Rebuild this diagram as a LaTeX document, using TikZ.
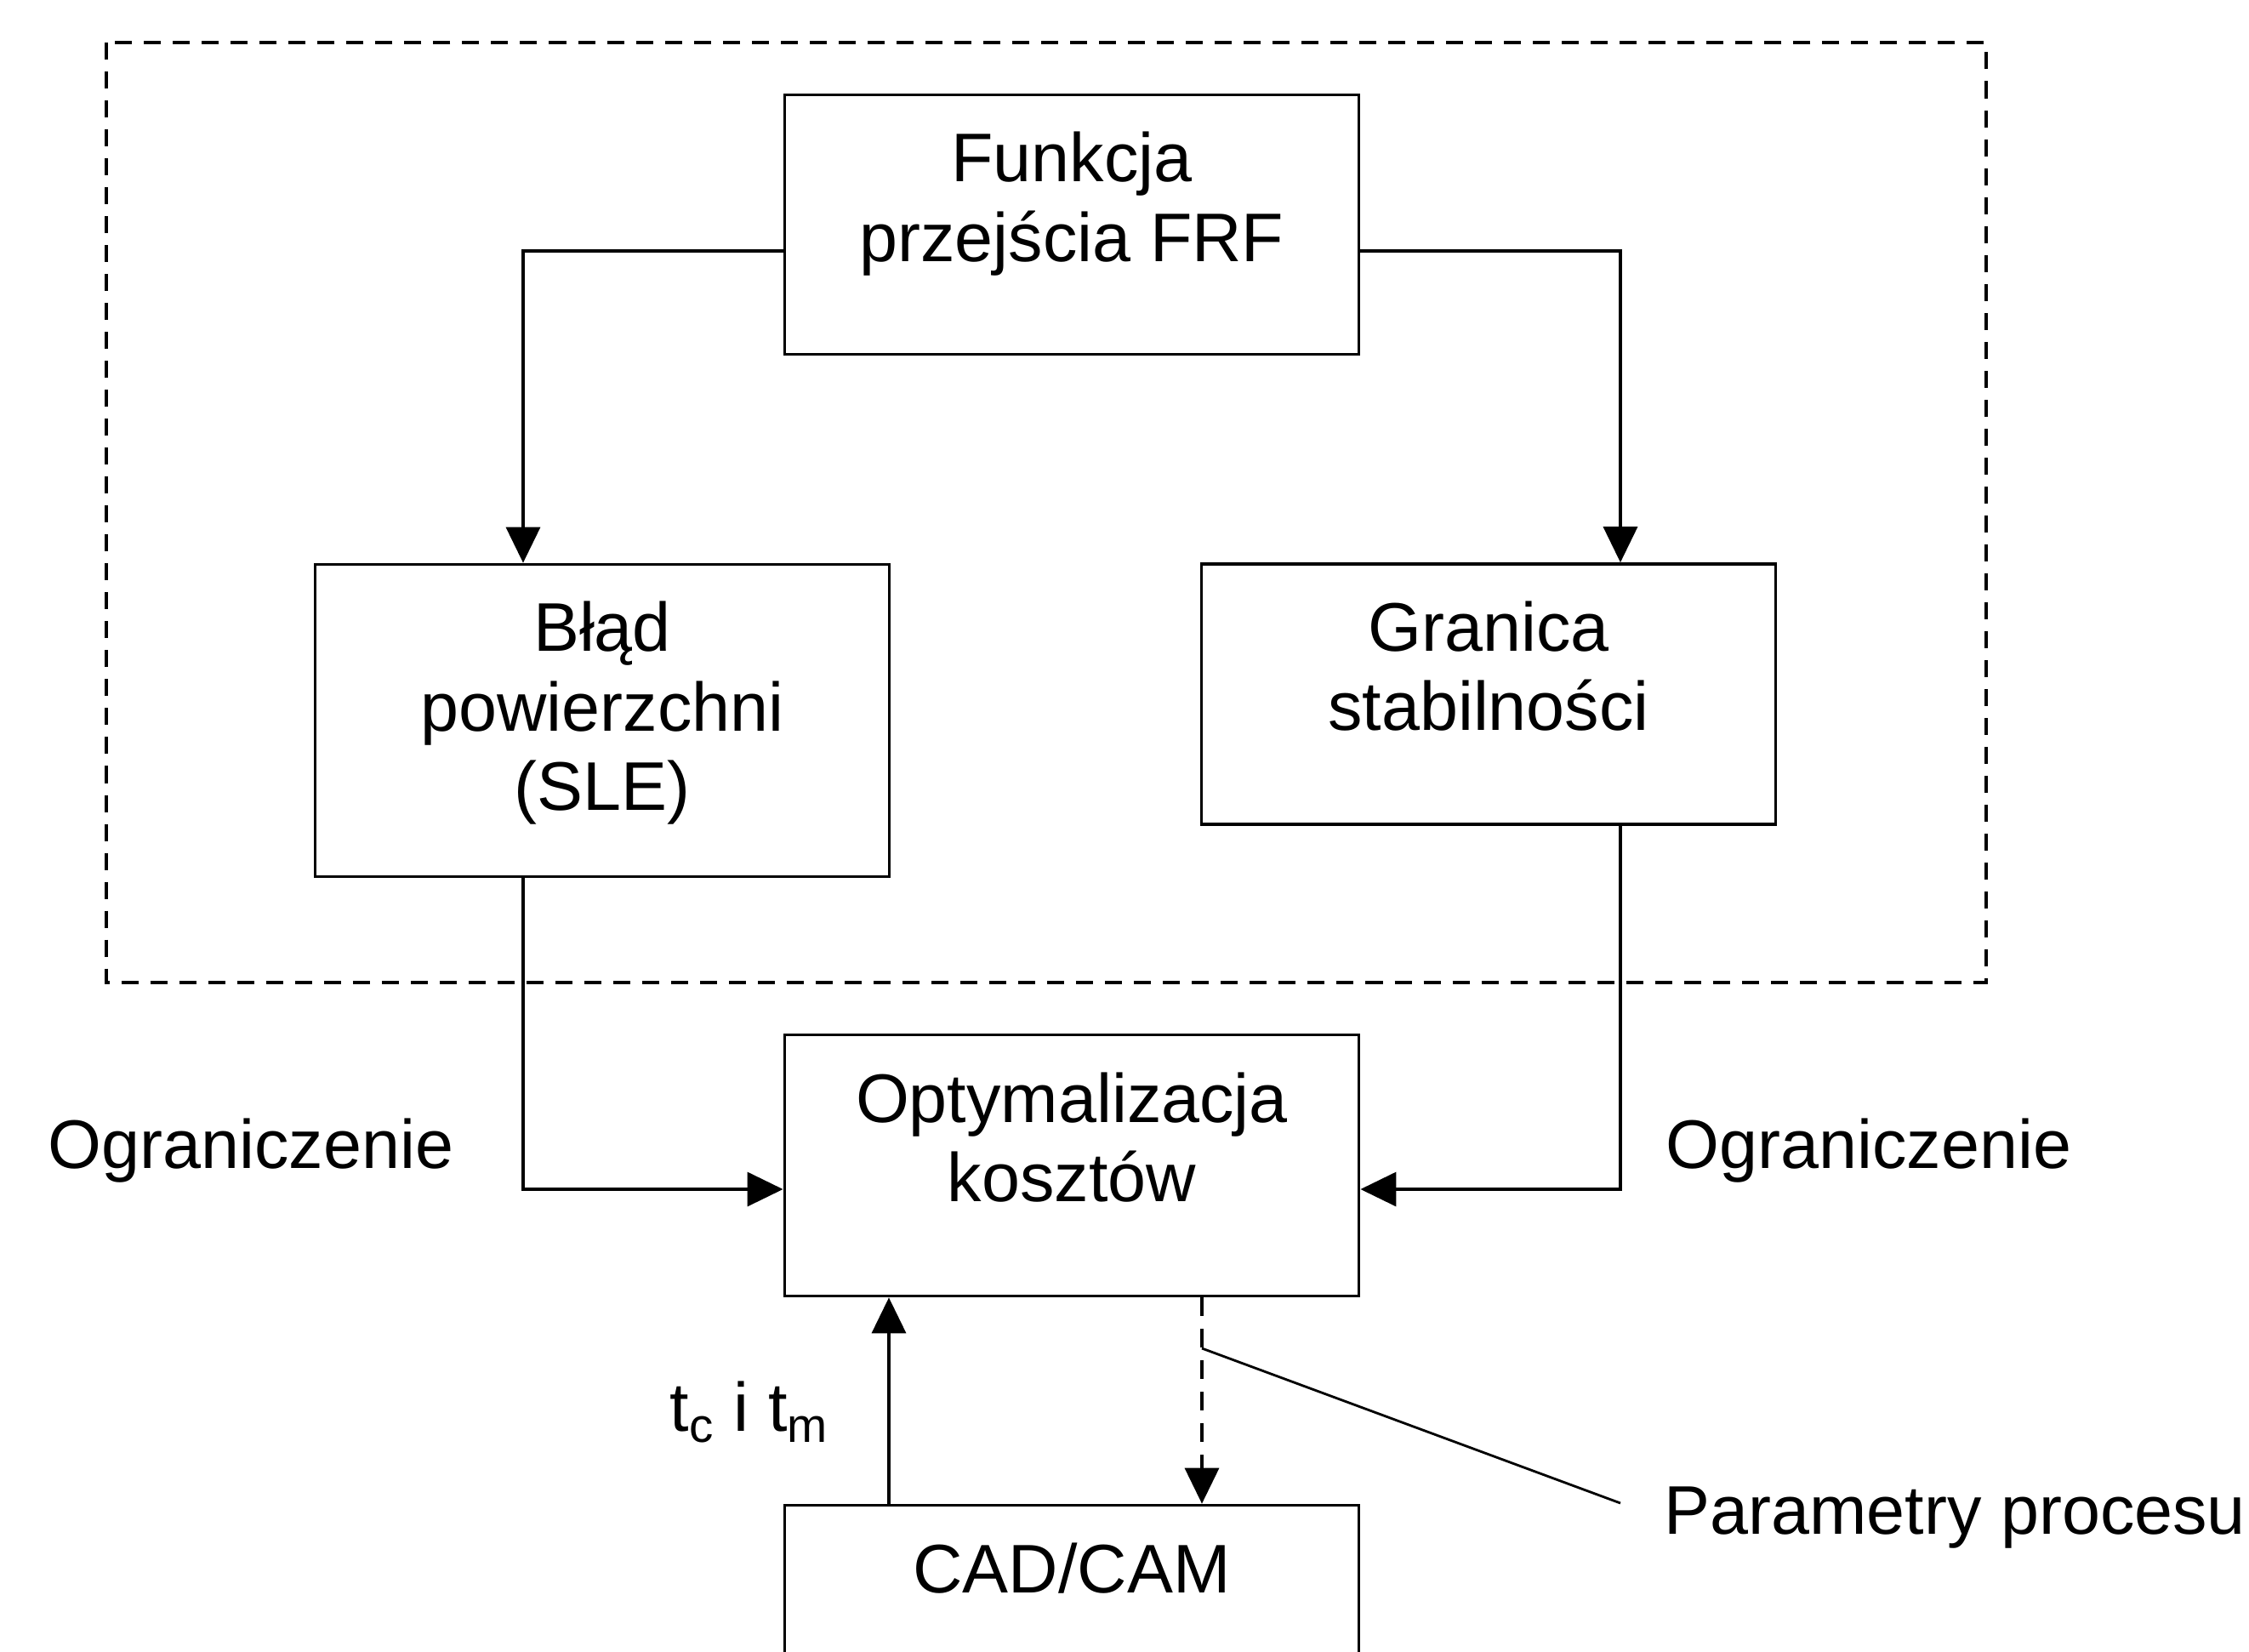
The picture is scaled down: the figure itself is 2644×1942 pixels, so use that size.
\documentclass[tikz,border=0pt]{standalone}
\usepackage{fontspec}
\setmainfont{Liberation Sans}
\usetikzlibrary{positioning,arrows.meta}

\tikzset{
	blok/.style={draw, line width=1pt, inner sep=0pt},
	napis/.style={align=center, inner sep=0pt},
	strz/.style={line width=1pt, -{Triangle[length=4.2mm,width=4mm]}},
	ramka/.style={line width=1pt, dash pattern=on 2mm off 1.4mm},
	every node/.style={font=\fontsize{23}{26.5}\selectfont}
}

\begin{document}
\begin{tikzpicture}[x=0.01cm, y=-0.01cm]
	\useasboundingbox (0,0) rectangle (2644,1942);
	\clip (0,0) rectangle (2644,1942);
	
	% Draw dashed frame
	\draw[ramka] (125,50) rectangle (2335,1155);
	
	% Draw boxes
	\node[blok, minimum width=6.75cm, minimum height=3.05cm] (frf) at (1260,264) {};
	\node[blok, minimum width=6.75cm, minimum height=3.67cm] (blad) at (708,847) {};
	\node[blok, minimum width=6.75cm, minimum height=3.06cm] (gran) at (1750,816) {};
	\node[blok, minimum width=6.75cm, minimum height=3.07cm] (opt) at (1260,1370) {};
	\node[blok, minimum width=6.75cm, minimum height=3.07cm] (cad) at (1260,1923) {};
	
	% Box texts
	\node[napis, below=0.45cm of frf.north] (frf-t) {Funkcja\\przejścia FRF};
	\node[napis, below=0.45cm of blad.north] (blad-t) {Błąd\\powierzchni\\(SLE)};
	\node[napis, below=0.45cm of gran.north] (gran-t) {Granica\\stabilności};
	\node[napis, below=0.45cm of opt.north] (opt-t) {Optymalizacja\\kosztów};
	\node[napis, below=0.45cm of cad.north] (cad-t) {CAD/CAM};
	
	% Bends of the connectors
	\coordinate (kL) at (615,295);
	\coordinate (kP) at (1905,295);
	\coordinate (kD) at (615,1398);
	\coordinate (gora) at (1045,0);
	\coordinate (dol) at (1413,0);
	
	% Draw connectors
	\draw[strz] (frf.west |- kL) -| (blad.north -| kL);
	\draw[strz] (frf.east |- kP) -| (gran.north -| kP);
	\draw[strz] (blad.south -| kL) |- (opt.west |- kD);
	\draw[strz] (gran.south -| kP) |- (opt.east |- kD);
	\draw[strz] (cad.north -| gora) -- (opt.south -| gora);
	\draw[strz, dash pattern=on 2.2mm off 1.5mm] (opt.south -| dol) -- (cad.north -| dol);
	
	% Labels
	\node[anchor=base west, inner sep=0pt] (ogrL) at (56,1373) {Ograniczenie};
	\node[anchor=base west, inner sep=0pt] (ogrP) at (1958,1373) {Ograniczenie};
	\node[anchor=base west, inner sep=0pt] (czasy) at (787,1682) {t\textsubscript{c} i t\textsubscript{m}};
	\node[anchor=base west, inner sep=0pt] (param) at (1956,1803) {Parametry procesu};
	
	% Leader line
	\coordinate (p1) at (1413,1585);
	\coordinate (p2) at (1905,1767);
	\draw[line width=0.8pt] (p1) -- (p2);
\end{tikzpicture}
\end{document}
